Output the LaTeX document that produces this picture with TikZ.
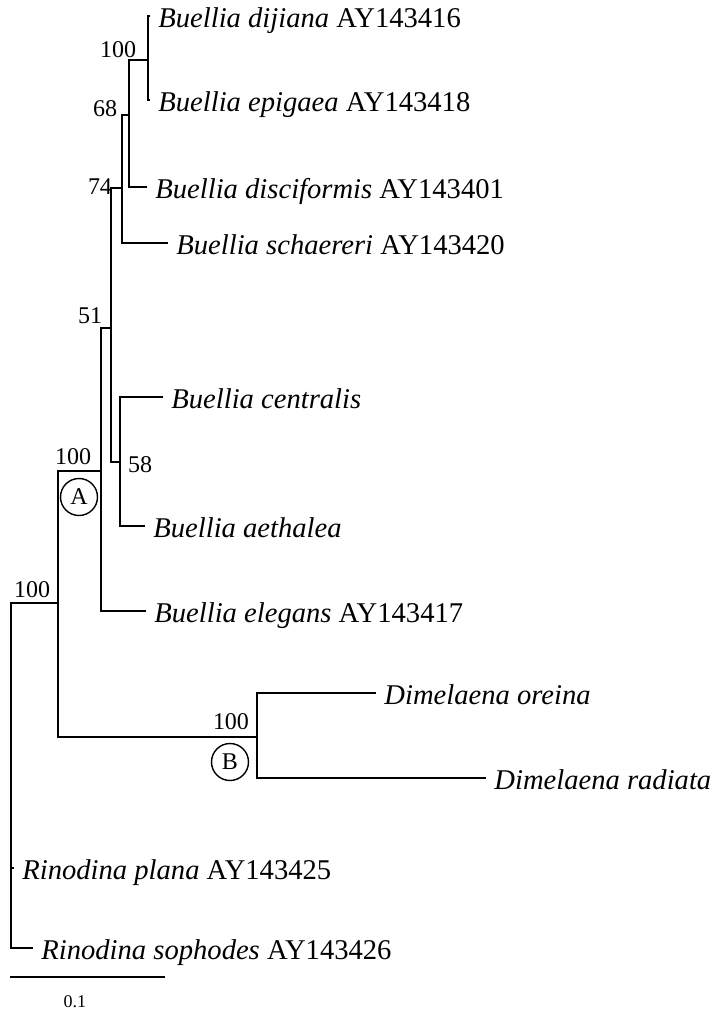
\documentclass[tikz,border=0pt]{standalone}
\usepackage{fontspec}
\setmainfont{Liberation Serif}
\usepackage{tikz}
\tikzstyle{LeafTree}=[anchor=west,inner xsep=4pt,inner ysep=0pt,text height=11.5pt,text depth=0pt,
font=\fontsize{14.3}{17}\selectfont]
\tikzstyle{BootTree}=[inner sep=0pt,font=\fontsize{12}{14}\selectfont]
\tikzstyle{CladeTree}=[circle,draw,inner sep=0pt,minimum size=18.5pt,line width=0.7pt,
font=\fontsize{12}{14}\selectfont]
\tikzstyle{EdgeTree}=[line width=0.8pt]
\tikzstyle{ScaleTree}=[inner sep=0pt,font=\fontsize{9}{11}\selectfont]
\begin{document}
\begin{tikzpicture}[x=0.5pt,y=-0.5pt]
        \useasboundingbox(0,0)rectangle(710,1014);
        \coordinate(r)at(11,603);
        \coordinate(nab)at(58,603);
        \coordinate(na)at(101,471);
        \coordinate(n51)at(111,328);
        \coordinate(n74)at(122,188);
        \coordinate(n68)at(129,115);
        \coordinate(n100)at(148,60);
        \coordinate(n58)at(120,462);
        \coordinate(nb)at(257,737);
        \node[LeafTree](dij)at(150,16){\textit{Buellia dijiana} AY143416};
        \node[LeafTree](epi)at(150,100){\textit{Buellia epigaea} AY143418};
        \node[LeafTree](dis)at(147,187){\textit{Buellia disciformis} AY143401};
        \node[LeafTree](sch)at(168,243){\textit{Buellia schaereri} AY143420};
        \node[LeafTree](cen)at(163,397){\textit{Buellia centralis}};
        \node[LeafTree](aet)at(145,526){\textit{Buellia aethalea}};
        \node[LeafTree](ele)at(146,611){\textit{Buellia elegans} AY143417};
        \node[LeafTree](ore)at(376,693){\textit{Dimelaena oreina}};
        \node[LeafTree](rad)at(486,778){\textit{Dimelaena radiata}};
        \node[LeafTree](pla)at(14,868){\textit{Rinodina plana} AY143425};
        \node[LeafTree](sop)at(33,948){\textit{Rinodina sophodes} AY143426};
        \draw[EdgeTree](dij.west)-|(n100)|-(epi.west);
        \draw[EdgeTree](n100)-|(n68)|-(dis.west);
        \draw[EdgeTree](n68)-|(n74)|-(sch.west);
        \draw[EdgeTree](cen.west)-|(n58)|-(aet.west);
        \draw[EdgeTree](n74)-|(n51)|-(n58);
        \draw[EdgeTree](n51)-|(na)|-(ele.west);
        \draw[EdgeTree](ore.west)-|(nb)|-(rad.west);
        \draw[EdgeTree](na)-|(nab)|-(nb);
        \draw[EdgeTree](nab)--(r)|-(sop.west);
        \draw[EdgeTree](r)|-(pla.west);
        \node[BootTree](b1)at(118,50){100};
        \node[BootTree](b2)at(105,109){68};
        \node[BootTree](b3)at(100,187){74};
        \node[BootTree](b4)at(90,316){51};
        \node[BootTree](b5)at(140,465){58};
        \node[BootTree](b6)at(73,457){100};
        \node[BootTree](b7)at(32,590){100};
        \node[BootTree](b8)at(231,722){100};
        \node[CladeTree](ca)at(79,497){A};
        \node[CladeTree](cb)at(230,762){B};
        \coordinate(s0)at(10,977);
        \coordinate(s1)at(165,977);
        \draw[EdgeTree](s0)--(s1);
        \node[ScaleTree](sl)at(75,1002){0.1};
    \end{tikzpicture}
\end{document}
